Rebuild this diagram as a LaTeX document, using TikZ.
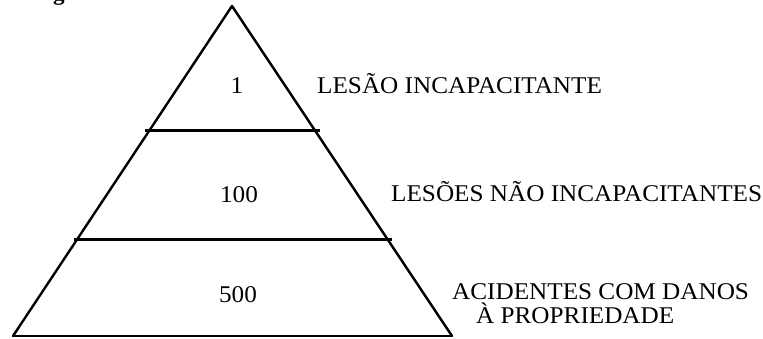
\documentclass[tikz,border=0pt]{standalone}
\usepackage{fontspec}
\setmainfont{Liberation Serif}[FakeStretch=1.05]
\begin{document}
\begin{tikzpicture}[x=1pt,y=-1pt,
  edge/.style={line width=2.4pt, line join=round, line cap=round},
  basel/.style={line width=2pt},
  divider/.style={line width=3pt},
  lbl/.style={inner sep=0pt, anchor=base west, font=\fontsize{24}{24}\selectfont},
  num/.style={inner sep=0pt, anchor=base, font=\fontsize{24}{24}\selectfont},
  figfrag/.style={inner sep=0pt, anchor=base, font=\bfseries\fontsize{22}{22}\selectfont}]
\useasboundingbox (0,0) rectangle (763,338);
% triangle
\coordinate (apex) at (232,6);
\coordinate (bl) at (13,336);
\coordinate (br) at (452,336);
\draw[edge] (bl) -- (apex) -- (br);
\draw[basel] (bl) -- (br);
% dividers
\coordinate (d1l) at (145,130);
\coordinate (d1r) at (320,130);
\coordinate (d2l) at (74,239);
\coordinate (d2r) at (392,239);
\draw[divider] (d1l) -- (d1r);
\draw[divider] (d2l) -- (d2r);
% numbers
\node[num] (n1) at (237,93) {1};
\node[num] (n100) at (239,202) {100};
\node[num] (n500) at (238,302) {500};
% labels
\node[lbl] (l1) at (317,93) {LESÃO INCAPACITANTE};
\node[lbl] (l2) at (391,201) {LESÕES NÃO INCAPACITANTES};
\node[lbl] (l3a) at (452,299) {ACIDENTES COM DANOS};
\node[lbl] (l3b) at (476,323) {À PROPRIEDADE};
% clipped caption fragment
\node[figfrag] (fig) at (59,0.5) {g};
\end{tikzpicture}
\end{document}
